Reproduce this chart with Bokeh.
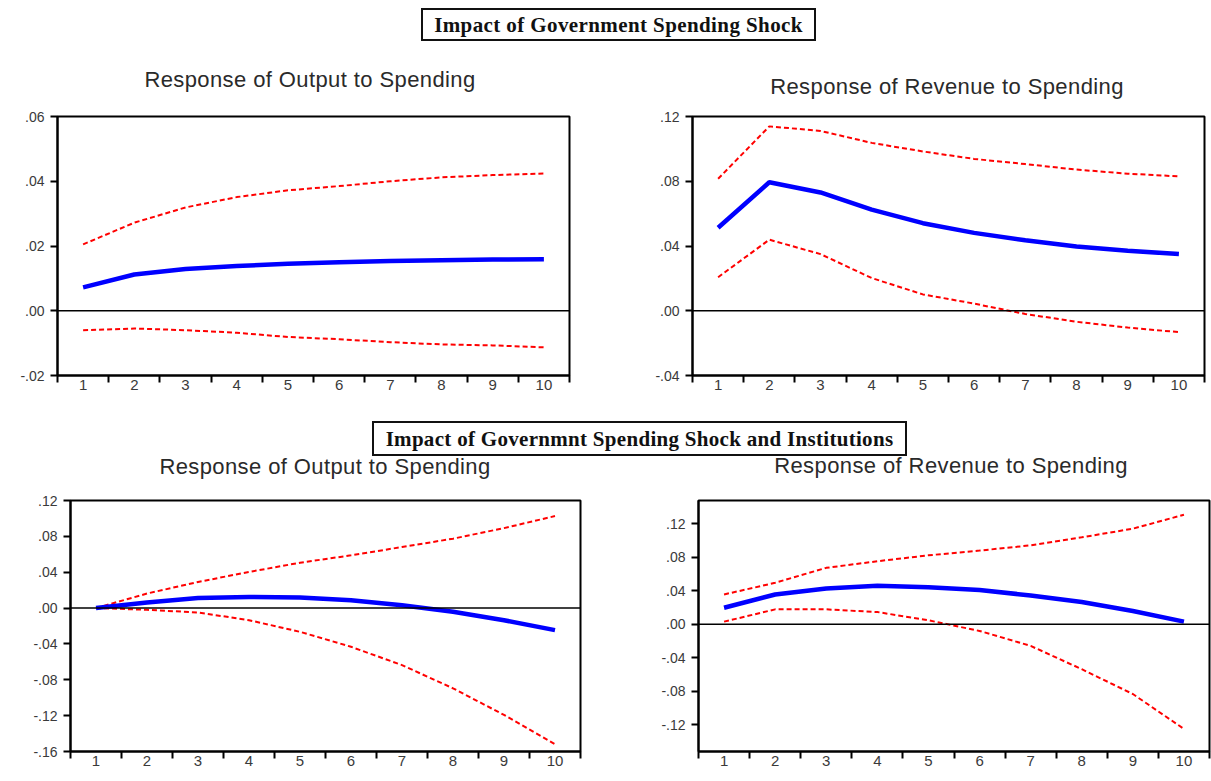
from bokeh.plotting import figure
from bokeh.models import (FixedTicker, CustomJSTickFormatter, Span, Div, Range1d,
                          ColumnDataSource)
from bokeh.layouts import column, row
from bokeh.embed import file_html
from bokeh.resources import INLINE

# ---------------- data ----------------
periods = [1, 2, 3, 4, 5, 6, 7, 8, 9, 10]
period_labels = ["1", "2", "3", "4", "5", "6", "7", "8", "9", "10"]

header_top = "Impact of Government Spending Shock"
header_bottom = "Impact of Governmnt Spending Shock and Institutions"

title_output = "Response of Output to Spending"
title_revenue = "Response of Revenue to Spending"

# Panel 1: Output to Spending (government spending shock)
out1_resp = [0.0072, 0.0112, 0.0129, 0.0138, 0.0145, 0.0150, 0.0154, 0.0156, 0.0158, 0.0159]
out1_upper = [0.0205, 0.0272, 0.0319, 0.0351, 0.0372, 0.0385, 0.0400, 0.0412, 0.0419, 0.0424]
out1_lower = [-0.0060, -0.0055, -0.0060, -0.0068, -0.0081, -0.0088, -0.0097, -0.0104, -0.0107, -0.0113]
out1_yticks = [-0.02, 0.0, 0.02, 0.04, 0.06]

# Panel 2: Revenue to Spending (government spending shock)
rev1_resp = [0.0513, 0.0794, 0.0731, 0.0625, 0.0541, 0.0481, 0.0435, 0.0397, 0.0371, 0.0350]
rev1_upper = [0.0815, 0.1139, 0.1111, 0.1037, 0.0984, 0.0938, 0.0906, 0.0872, 0.0847, 0.0830]
rev1_lower = [0.0207, 0.0439, 0.0350, 0.0202, 0.0101, 0.0044, -0.0020, -0.0068, -0.0104, -0.0132]
rev1_yticks = [-0.04, 0.0, 0.04, 0.08, 0.12]

# Panel 3: Output to Spending (spending shock and institutions)
out2_resp = [0.0000, 0.0061, 0.0113, 0.0124, 0.0117, 0.0087, 0.0032, -0.0042, -0.0135, -0.0246]
out2_upper = [0.0000, 0.0162, 0.0291, 0.0403, 0.0506, 0.0588, 0.0681, 0.0774, 0.0892, 0.1026]
out2_lower = [0.0000, -0.0019, -0.0049, -0.0135, -0.0265, -0.0432, -0.0636, -0.0895, -0.1192, -0.1518]
out2_yticks = [-0.16, -0.12, -0.08, -0.04, 0.0, 0.04, 0.08, 0.12]

# Panel 4: Revenue to Spending (spending shock and institutions)
rev2_resp = [0.0198, 0.0357, 0.0429, 0.0460, 0.0444, 0.0409, 0.0345, 0.0266, 0.0159, 0.0032]
rev2_upper = [0.0357, 0.0496, 0.0675, 0.0754, 0.0825, 0.0881, 0.0944, 0.1040, 0.1143, 0.1310]
rev2_lower = [0.0032, 0.0179, 0.0179, 0.0147, 0.0048, -0.0079, -0.0258, -0.0536, -0.0833, -0.1250]
rev2_yticks = [-0.12, -0.08, -0.04, 0.0, 0.04, 0.08, 0.12]

BLUE = "#0000ff"
RED = "#ff0000"
LABEL_COLOR = "#3a3a3a"

fmt_code = """
const s = tick.toFixed(2);
return s.replace('0.', '.');
"""


def make_panel(resp, upper, lower, yticks, yrange, width, height, borders):
    left, right, top, bottom = borders
    p = figure(width=width, height=height, output_backend="svg", toolbar_location=None,
               x_range=Range1d(0.5, 10.5), y_range=Range1d(*yrange),
               min_border_left=left, min_border_right=right,
               min_border_top=top, min_border_bottom=bottom)
    p.background_fill_color = "white"
    p.border_fill_color = "white"
    p.outline_line_color = "black"
    p.outline_line_width = 2
    p.xgrid.visible = False
    p.ygrid.visible = False

    src = ColumnDataSource(dict(x=periods, resp=resp, upper=upper, lower=lower))

    p.add_layout(Span(location=0, dimension="width", line_color="black", line_width=1.5))
    p.line("x", "upper", source=src, line_color=RED, line_width=2, line_dash="5 3")
    p.line("x", "lower", source=src, line_color=RED, line_width=2, line_dash="5 3")
    p.line("x", "resp", source=src, line_color=BLUE, line_width=4.5)

    # x axis: labels at period centres, tick marks at period boundaries
    xa = p.xaxis[0]
    xa.ticker = FixedTicker(ticks=periods,
                            minor_ticks=[v - 0.5 for v in periods] + [periods[-1] + 0.5])
    xa.major_label_overrides = {v: s for v, s in zip(periods, period_labels)}
    xa.major_tick_out = 0
    xa.major_tick_in = 0
    xa.minor_tick_out = 7
    xa.minor_tick_in = 0
    xa.minor_tick_line_color = "black"
    xa.minor_tick_line_width = 2
    xa.axis_line_color = "black"
    xa.axis_line_width = 2
    xa.major_label_standoff = -3
    xa.major_label_text_font = "Liberation Sans"
    xa.major_label_text_font_size = "15px"
    xa.major_label_text_color = LABEL_COLOR

    ya = p.yaxis[0]
    ya.ticker = FixedTicker(ticks=yticks)
    ya.formatter = CustomJSTickFormatter(code=fmt_code)
    ya.major_tick_out = 7
    ya.major_tick_in = 0
    ya.minor_tick_out = 0
    ya.minor_tick_in = 0
    ya.major_tick_line_color = "black"
    ya.major_tick_line_width = 2
    ya.axis_line_color = "black"
    ya.axis_line_width = 2
    ya.major_label_standoff = 6
    ya.major_label_text_font = "Liberation Sans"
    ya.major_label_text_font_size = "14px"
    ya.major_label_text_color = LABEL_COLOR
    return p


p1 = make_panel(out1_resp, out1_upper, out1_lower, out1_yticks, (-0.02, 0.06),
                605, 310, (57, 36, 16, 35))
p2 = make_panel(rev1_resp, rev1_upper, rev1_lower, rev1_yticks, (-0.04, 0.12),
                606, 310, (692 - 605, 7, 16, 35))
p3 = make_panel(out2_resp, out2_upper, out2_lower, out2_yticks, (-0.16, 0.12),
                605, 291, (70, 25, 10, 30))
p4 = make_panel(rev2_resp, rev2_upper, rev2_lower, rev2_yticks, (-0.152, 0.148),
                606, 291, (698 - 605, 2, 10, 30))

box_style = ("position:absolute;box-sizing:border-box;border:2px solid #111;background:white;"
             "display:flex;align-items:center;justify-content:center;"
             "font-family:'Liberation Serif';font-weight:bold;font-size:21px;color:#111;"
             "white-space:nowrap;")
title_style = ("position:absolute;transform:translate(-50%,-50%);white-space:nowrap;"
               "font-family:'Liberation Sans';font-size:22px;color:#2a2a2a;"
               "letter-spacing:0.4px;line-height:1;")


def header_div(height, box_text, box_geom, ls, titles):
    bx, by, bw, bh = box_geom
    parts = [f'<div style="position:relative;width:1211px;height:{height}px;">']
    parts.append(f'<div style="left:{bx}px;top:{by}px;width:{bw}px;height:{bh}px;'
                 f'{box_style}letter-spacing:{ls}px;">{box_text}</div>')
    for txt, cx, cy in titles:
        parts.append(f'<div style="left:{cx}px;top:{cy}px;{title_style}">{txt}</div>')
    parts.append('</div>')
    return Div(width=1211, height=height, margin=0, text="".join(parts))


head1 = header_div(100, header_top, (421, 8, 395, 33), 0.4,
                   [(title_output, 310, 80), (title_revenue, 947, 87)])
head2 = header_div(80, header_bottom, (372, 11, 535, 35), 0.3,
                   [(title_output, 325, 57), (title_revenue, 951, 56)])

layout = column(head1, row(p1, p2), head2, row(p3, p4), spacing=0)

open("out.html", "w").write(file_html(layout, INLINE))
